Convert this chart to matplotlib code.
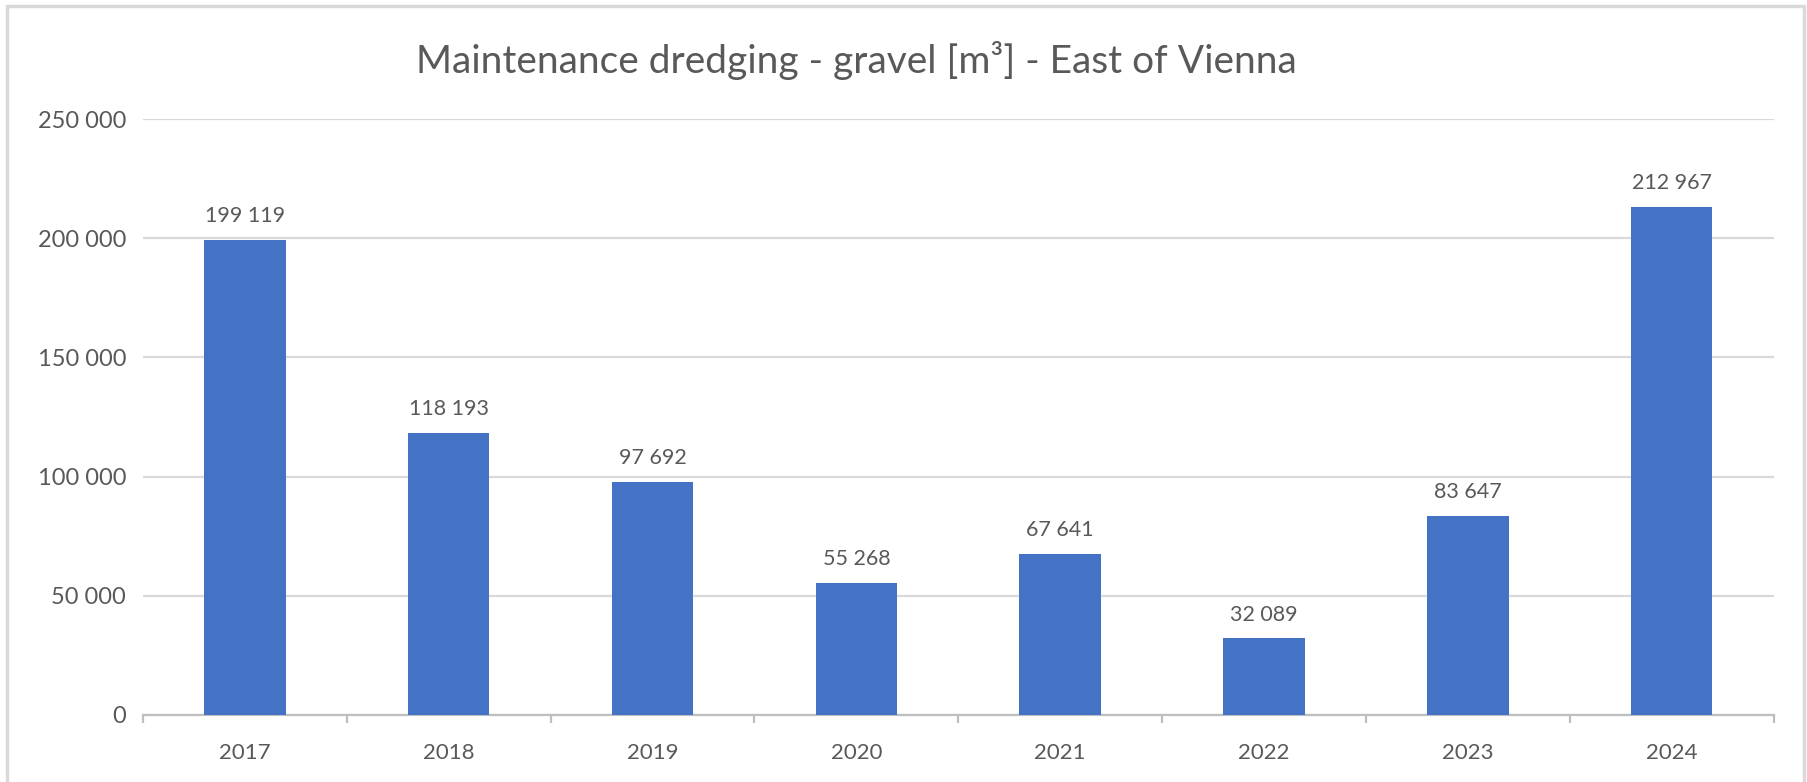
import matplotlib.pyplot as plt
from matplotlib.patches import Rectangle
import numpy as np

# ── data ──────────────────────────────────────────────
years = ["2017", "2018", "2019", "2020", "2021", "2022", "2023", "2024"]
volumes = [199119, 118193, 97692, 55268, 67641, 32089, 83647, 212967]
y_ticks = [0, 50000, 100000, 150000, 200000, 250000]

C_BAR = "#4472C4"
C_TEXT = "#595959"
C_GRID = "#D9D9D9"

plt.rcParams["font.family"] = ["Lato", "DejaVu Sans"]


def fmt(v):
    return f"{v:,}".replace(",", " ")


fig = plt.figure(figsize=(18.08, 7.82), dpi=100)
ax = fig.add_axes([0.079, 0.0857, 0.902, 0.762])

x = np.arange(len(years))
ax.bar(x, volumes, width=0.4, color=C_BAR, zorder=3)

for xi, v in zip(x, volumes):
    ax.annotate(fmt(v), (xi, v), xytext=(0, 10), textcoords="offset points",
                ha="center", va="bottom", fontsize=15.5, color=C_TEXT)

ax.set_xlim(-0.5, len(years) - 0.5)
ax.set_ylim(0, 250000)
ax.set_yticks(y_ticks)
ax.set_yticklabels([fmt(t) for t in y_ticks])
ax.set_xticks(x)
ax.set_xticklabels(years)
ax.set_xticks(np.arange(-0.5, len(years)), minor=True)

ax.yaxis.grid(True, color=C_GRID, lw=1.6, zorder=0)
ax.set_axisbelow(True)
for s in ["top", "right", "left"]:
    ax.spines[s].set_visible(False)
ax.spines["bottom"].set_color("#BFBFBF")
ax.spines["bottom"].set_linewidth(1.6)

ax.tick_params(axis="y", length=0, pad=12, labelsize=17, labelcolor=C_TEXT)
ax.tick_params(axis="x", which="major", length=0, pad=20, labelsize=16,
               labelcolor=C_TEXT)
ax.tick_params(axis="x", which="minor", length=6, width=1.6, color="#BFBFBF")

fig.text(0.4735, 0.923, "Maintenance dredging - gravel [m³] - East of Vienna",
         ha="center", va="center", fontsize=28, color=C_TEXT)

# light chart frame
fig.patches.append(Rectangle((0.004, -0.05), 0.994, 1.042, transform=fig.transFigure,
                             fill=False, edgecolor=C_GRID, lw=2.5))

fig.savefig("out.png", dpi=100)
